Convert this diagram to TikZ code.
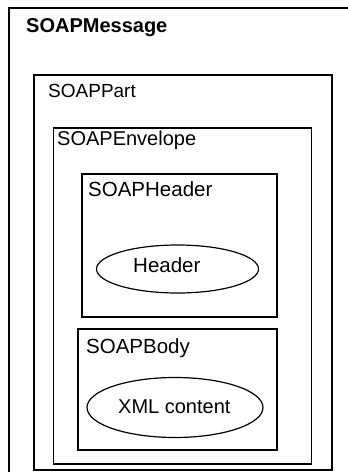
\documentclass[tikz,border=0pt]{standalone}
\usepackage{fontspec}
\setmainfont{Liberation Sans}
\usetikzlibrary{shapes.geometric}
\begin{document}
\begin{tikzpicture}[x=1pt,y=-1pt,
  box/.style={draw=black, line width=1.3pt, rectangle, inner sep=0pt},
  oval/.style={draw=black, line width=1.2pt, ellipse, inner sep=0pt},
  lbl/.style={anchor=base west, inner sep=0pt}]
\useasboundingbox (0,0) rectangle (348,472);
\clip (0,0) rectangle (348,472);
\fill[white] (0,0) rectangle (348,472);
% boxes
\node[box, line width=1.5pt, minimum width=346pt, minimum height=472pt] (msg) at (182,244) {};
\node[box, minimum width=298pt, minimum height=395pt] (part) at (183,272.5) {};
\node[box, minimum width=258pt, minimum height=336pt] (env) at (182.5,296) {};
\node[box, minimum width=195pt, minimum height=143pt] (hdr) at (179.5,245.5) {};
\node[box, minimum width=199pt, minimum height=121pt] (body) at (177.5,389.5) {};
% ellipses
\node[oval, minimum width=162pt, minimum height=48pt] (hel) at (177.5,269) {};
\node[oval, minimum width=176pt, minimum height=60pt] (xel) at (175,407.5) {};
% labels
\node[lbl, font=\fontsize{20}{24}\selectfont\bfseries] (tmsg) at (26,32) {SOAPMessage};
\node[lbl, font=\fontsize{19}{23}\selectfont] (tpart) at (48,97) {SOAPPart};
\node[lbl, font=\fontsize{20}{24}\selectfont] (tenv) at (57,145) {SOAPEnvelope};
\node[lbl, font=\fontsize{20.5}{24}\selectfont] (thdr) at (88,196) {SOAPHeader};
\node[lbl, font=\fontsize{20.5}{24}\selectfont] (tbody) at (86,353) {SOAPBody};
\node[lbl, font=\fontsize{20.5}{24}\selectfont] (thel) at (133,272) {Header};
\node[lbl, font=\fontsize{20}{24}\selectfont] (txel) at (118,413) {XML content};
\end{tikzpicture}
\end{document}
